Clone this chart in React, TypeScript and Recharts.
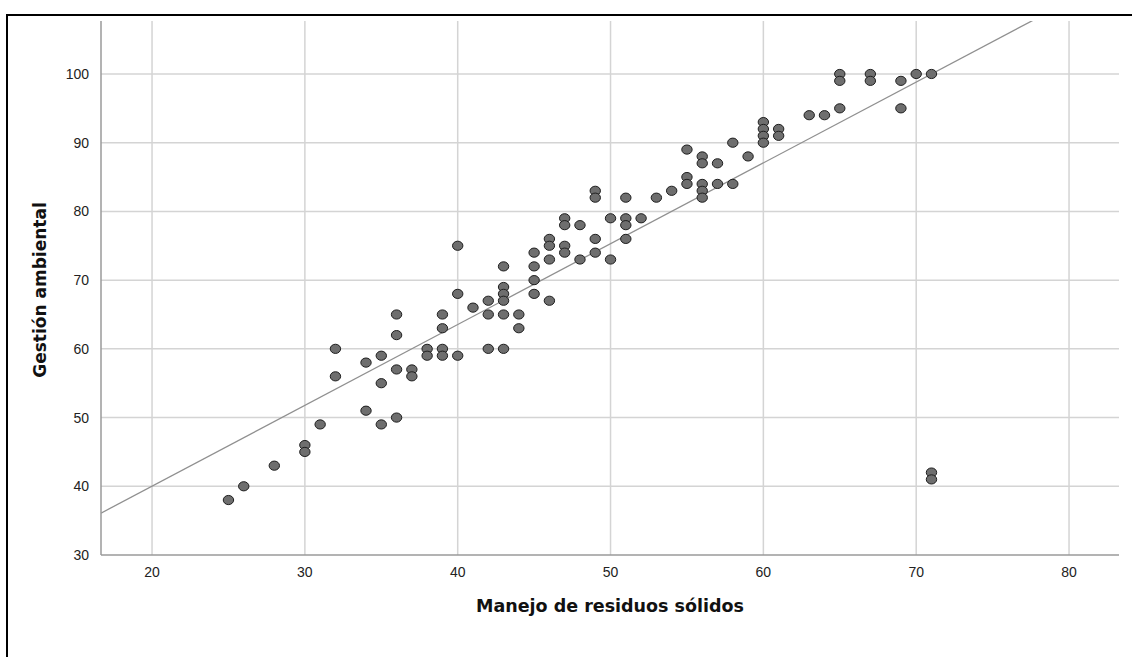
import React from "react";
import { ScatterChart, Scatter, XAxis, YAxis, CartesianGrid, ReferenceLine, Label } from "recharts";

// Manejo de residuos sólidos (x) / Gestión ambiental (y)
const manejo = [
  25, 26, 28, 30, 30, 31, 32, 32, 34, 34, 35, 35, 35, 36, 36, 36, 36, 37, 37,
  38, 38, 39, 39, 39, 39, 40, 40, 40, 41, 42, 42, 42, 43, 43, 43, 43, 43, 43,
  44, 44, 45, 45, 45, 45, 46, 46, 46, 46, 47, 47, 47, 47, 48, 48, 49, 49, 49, 49,
  50, 50, 51, 51, 51, 51, 52, 53, 54, 55, 55, 55, 56, 56, 56, 56, 56, 57, 57,
  58, 58, 59, 60, 60, 60, 60, 61, 61, 63, 64, 65, 65, 65, 67, 67, 69, 69, 70,
  71, 71, 71,
];
const gestion = [
  38, 40, 43, 46, 45, 49, 60, 56, 58, 51, 59, 55, 49, 65, 62, 57, 50, 57, 56,
  60, 59, 65, 63, 60, 59, 75, 68, 59, 66, 67, 65, 60, 72, 69, 68, 67, 65, 60,
  65, 63, 74, 72, 70, 68, 76, 75, 73, 67, 79, 78, 75, 74, 78, 73, 83, 82, 76, 74,
  79, 73, 82, 79, 78, 76, 79, 82, 83, 89, 85, 84, 88, 87, 84, 83, 82, 87, 84,
  90, 84, 88, 93, 92, 91, 90, 92, 91, 94, 94, 100, 99, 95, 100, 99, 99, 95, 100,
  100, 42, 41,
];

const xTicks = [20, 30, 40, 50, 60, 70, 80];
const yTicks = [30, 40, 50, 60, 70, 80, 90, 100];

// fit line as drawn in the picture
const fitIntercept = 16.5;
const fitSlope = 1.176;

const X_MIN = 16.66;
const X_MAX = 83.27;
const Y_MIN = 30;
const Y_MAX = 107.71;

const points = manejo.map((x, i) => ({ x, y: gestion[i] }));

const tickStyle = { fontSize: 14, fill: "#222", fontFamily: "'Liberation Sans', Arial, sans-serif" };
const titleFont = "'DejaVu Sans', sans-serif";

function Dot(props: any) {
  return (
    <ellipse cx={props.cx} cy={props.cy} rx={5.2} ry={4.6} fill="#6e6e6e" stroke="#1e1e1e" strokeWidth={1} />
  );
}

export default function App() {
  return (
    <div style={{ position: "fixed", left: 0, top: 0, width: 1132, height: 657, background: "#fff", overflow: "hidden" }}>
      <div
        style={{
          position: "absolute",
          left: 6,
          top: 14,
          width: 1140,
          height: 660,
          borderLeft: "2px solid #000",
          borderTop: "2px solid #000",
        }}
      />
      <div style={{ position: "absolute", left: 0, top: 0 }}>
        <ScatterChart width={1132} height={657} margin={{ top: 21, right: 13, bottom: 32, left: 41 }}>
          <CartesianGrid stroke="#d4d4d4" strokeWidth={1.5} horizontalValues={yTicks.slice(1)} verticalValues={xTicks} />
          <XAxis
            type="number"
            dataKey="x"
            domain={[X_MIN, X_MAX]}
            ticks={xTicks}
            allowDataOverflow
            height={70}
            tickLine={false}
            axisLine={{ stroke: "#9a9a9a", strokeWidth: 1.5 }}
            tick={tickStyle}
            tickMargin={6}
          >
            <Label
              content={(p: any) => {
                const vb = p.viewBox;
                return (
                  <text
                    x={vb.x + vb.width / 2}
                    y={vb.y + 57}
                    textAnchor="middle"
                    fontFamily={titleFont}
                    fontWeight="bold"
                    fontSize={17.5}
                    fill="#111"
                  >
                    Manejo de residuos sólidos
                  </text>
                );
              }}
            />
          </XAxis>
          <YAxis
            type="number"
            dataKey="y"
            domain={[Y_MIN, Y_MAX]}
            ticks={yTicks}
            allowDataOverflow
            width={60}
            tickLine={false}
            axisLine={{ stroke: "#9a9a9a", strokeWidth: 1.5 }}
            tick={tickStyle}
            tickMargin={6}
          >
            <Label
              content={(p: any) => {
                const vb = p.viewBox;
                const cx = vb.x - 1;
                const cy = vb.y + vb.height / 2 + 2;
                return (
                  <text
                    x={cx}
                    y={cy}
                    transform={`rotate(-90, ${cx}, ${cy})`}
                    textAnchor="middle"
                    dominantBaseline="central"
                    fontFamily={titleFont}
                    fontWeight="bold"
                    fontSize={17}
                    fill="#111"
                  >
                    Gestión ambiental
                  </text>
                );
              }}
            />
          </YAxis>
          <ReferenceLine
            segment={[
              { x: X_MIN, y: fitIntercept + fitSlope * X_MIN },
              { x: X_MAX, y: fitIntercept + fitSlope * X_MAX },
            ]}
            stroke="#909090"
            strokeWidth={1.3}
            ifOverflow="hidden"
          />
          <Scatter data={points} shape={Dot} isAnimationActive={false} />
        </ScatterChart>
      </div>
    </div>
  );
}
